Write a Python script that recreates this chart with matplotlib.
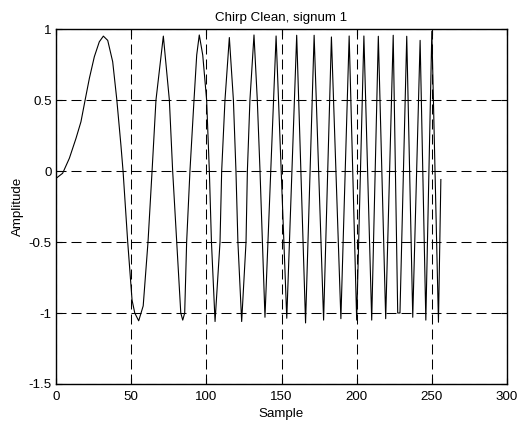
import matplotlib
matplotlib.use("Agg")
import matplotlib.pyplot as plt

# vertices of the chirp trace
sample = [0, 4.4, 8.9, 13.3, 16.6, 19.5, 22.2, 25.5, 28.8, 31.5, 34.4, 37.7, 40.4, 43.2, 44.6,
          47.7, 50.6, 52.4, 55, 58, 61.2, 63.9, 66.5, 71.4, 75.4, 77.6,
          80.3, 83, 84.3, 85.6, 86.9, 89.1, 91.8, 93.6, 95.3, 97.6, 100.2, 102, 103.4, 105.8,
          109.1, 110.2, 112.4, 115.3, 118, 119.7, 121, 123.5, 126.4, 127.3, 129, 131.7, 133.9, 135.7,
          139, 146.4, 153.5, 160.1, 166, 171.7, 178, 183.2, 189.5,
          195, 200, 204.8, 210, 214.4, 219.3, 224.3, 227.3, 228.8, 233.3, 237.3, 242.2, 246,
          250, 254.4, 256]
amplitude = [-0.052, -0.016, 0.09, 0.23, 0.347, 0.507, 0.653, 0.805, 0.91, 0.95, 0.92, 0.77, 0.507, 0.18, 0.0,
             -0.5, -0.91, -1.0, -1.055, -0.95, -0.5, 0.0, 0.5, 0.95, 0.5, 0.0,
             -0.5, -1.0, -1.05, -1.0, -0.5, 0.0, 0.5, 0.817, 0.958, 0.817, 0.5, 0.0, -0.5, -1.06,
             -0.5, 0.0, 0.5, 0.94, 0.5, 0.0, -0.5, -1.06, -0.5, 0.0, 0.5, 0.958, 0.5, 0.0,
             -1.03, 0.951, -1.037, 0.956, -1.07, 0.956, -1.05, 0.944, -1.04,
             0.951, -1.05, 0.951, -1.05, 0.949, -1.04, 0.956, -1.0, -1.0, 0.949, -1.03, 0.92, -1.05,
             0.984, -1.065, -0.06]

x_ticks = [0, 50, 100, 150, 200, 250, 300]
y_ticks = [-1.5, -1, -0.5, 0, 0.5, 1]
y_tick_labels = ["-1.5", "-1", "-0.5", "0", "0.5", "1"]

plt.rcParams["font.family"] = ["Liberation Sans", "DejaVu Sans"]
plt.rcParams["axes.unicode_minus"] = False

fig = plt.figure(figsize=(5.19, 4.23), dpi=100)
ax = fig.add_axes([0.1079, 0.0922, 0.869, 0.8392])

ax.plot(sample, amplitude, color="black", linewidth=0.8)

ax.set_xlim(0, 300)
ax.set_ylim(-1.5, 1)
ax.set_xticks(x_ticks)
ax.set_xticklabels([str(t) for t in x_ticks])
ax.set_yticks(y_ticks)
ax.set_yticklabels(y_tick_labels)

ax.grid(True, color="black", linewidth=0.75, linestyle=(0, (9.6, 4.8)))
ax.tick_params(direction="in", length=4, width=0.8, top=True, right=True, labelsize=9.6)
ax.tick_params(axis="x", pad=5)
ax.tick_params(axis="y", pad=3)
for spine in ax.spines.values():
    spine.set_linewidth(1.0)

ax.set_title("Chirp Clean, signum 1", fontsize=9.6, pad=6)
ax.set_xlabel("Sample", fontsize=9.6, labelpad=4)
ax.set_ylabel("Amplitude", fontsize=9.6, labelpad=3)

fig.savefig("out.png", dpi=100)
